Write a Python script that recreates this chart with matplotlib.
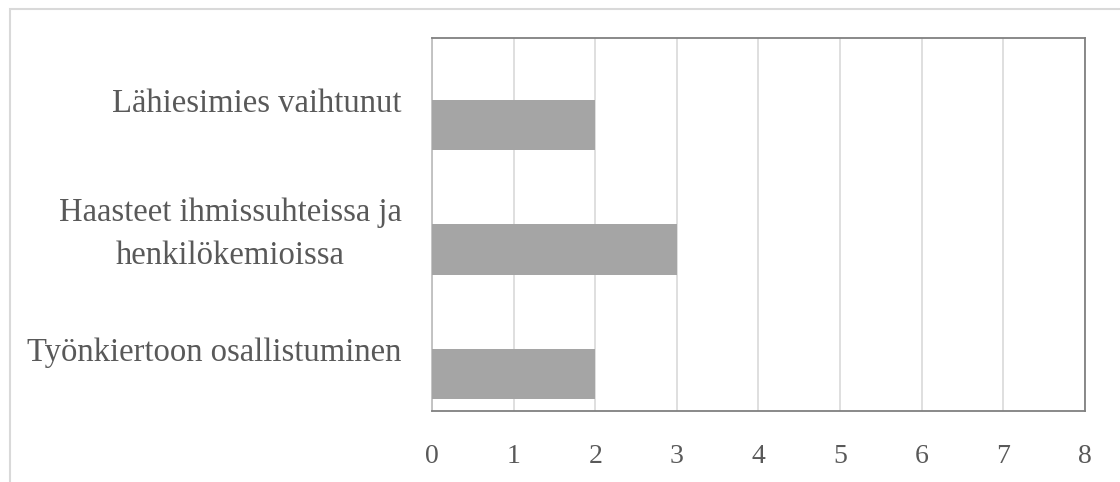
import matplotlib
matplotlib.use("Agg")
import matplotlib.pyplot as plt
import numpy as np
from matplotlib.patches import Rectangle

# Data (top to bottom as shown)
categories = [
    "Lähiesimies vaihtunut",
    "Haasteet ihmissuhteissa ja\nhenkilökemioissa",
    "Työnkiertoon osallistuminen",
]
values = [2, 3, 2]
empty_series = [0, 0, 0]  # second series in the source chart has no values
x_ticks = [0, 1, 2, 3, 4, 5, 6, 7, 8]

plt.rcParams["font.family"] = ["Liberation Serif", "DejaVu Serif"]

TEXT = "#595959"
BAR = "#a5a5a5"
GRID = "#d9d9d9"
BORDER = "#808080"

fig = plt.figure(figsize=(11.2, 4.82), dpi=100)
ax = fig.add_axes([0.3857, 0.1473, 0.5830, 0.7745])

# outer chart frame (cropped on the right and bottom in the reference)
fig.patches.append(Rectangle((9.5 / 1120, -0.1), 1.2, 0.1 + (482 - 8.5) / 482,
                             transform=fig.transFigure, fill=False,
                             edgecolor=GRID, linewidth=1.5))

y = np.arange(len(categories))
h = 0.405
ax.barh(y + h / 2, values, height=h, color=BAR, zorder=3)
ax.barh(y - h / 2, empty_series, height=h, color=BAR, zorder=3)

ax.set_xlim(x_ticks[0], x_ticks[-1])
ax.set_ylim(len(categories) - 0.5, -0.5)
ax.set_xticks(x_ticks)
ax.set_xticklabels([str(t) for t in x_ticks])
ax.set_yticks(y)
ax.set_yticklabels(categories)
for lbl in ax.get_yticklabels():
    lbl.set_multialignment("center")
    lbl.set_linespacing(1.55)

ax.tick_params(axis="both", length=0, labelcolor=TEXT)
ax.tick_params(axis="x", pad=24, labelsize=20)
ax.tick_params(axis="y", pad=22, labelsize=23.5)

ax.grid(axis="x", color=GRID, linewidth=1.2, zorder=0)
ax.grid(axis="y", visible=False)

for side in ["top", "right", "bottom"]:
    ax.spines[side].set_color(BORDER)
    ax.spines[side].set_linewidth(1.3)
ax.spines["left"].set_color("#bfbfbf")
ax.spines["left"].set_linewidth(1.3)

fig.savefig("out.png", dpi=100)
